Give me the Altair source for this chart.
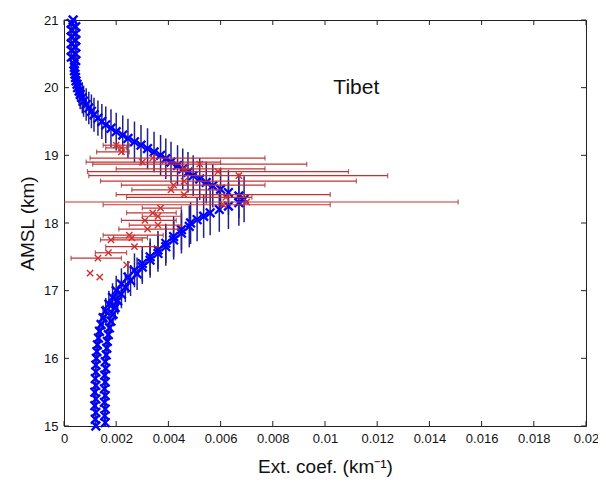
import altair as alt
import pandas as pd

# ---- blue profile (altitude km, extinction x1e-3 km^-1, vertical error half-length km)
blue_alt = [15.00, 15.05, 15.10, 15.15, 15.20, 15.25, 15.30, 15.35, 15.40, 15.45,
            15.50, 15.55, 15.60, 15.65, 15.70, 15.75, 15.80, 15.85, 15.90, 15.95,
            16.00, 16.05, 16.10, 16.15, 16.20, 16.25, 16.30, 16.35, 16.40, 16.45,
            16.50, 16.55, 16.60, 16.65, 16.70, 16.75, 16.80, 16.85, 16.90, 16.95,
            17.00, 17.05, 17.10, 17.15, 17.20, 17.25, 17.30, 17.35, 17.40, 17.45,
            17.50, 17.55, 17.60, 17.65, 17.70, 17.75, 17.80, 17.85, 17.90, 17.95,
            18.00, 18.05, 18.10, 18.15, 18.20, 18.25, 18.30, 18.35, 18.40, 18.45,
            18.50, 18.55, 18.60, 18.65, 18.70, 18.75, 18.80, 18.85, 18.90, 18.95,
            19.00, 19.05, 19.10, 19.15, 19.20, 19.25, 19.30, 19.35, 19.40, 19.45,
            19.50, 19.55, 19.60, 19.65, 19.70, 19.75, 19.80, 19.85, 19.90, 19.95,
            20.00, 20.05, 20.10, 20.15, 20.20, 20.25, 20.30, 20.35, 20.40, 20.45,
            20.50, 20.55, 20.60, 20.65, 20.70, 20.75, 20.80, 20.85, 20.90, 20.95,
            21.00]
blue_ext = [1.22, 1.58, 1.20, 1.56, 1.22, 1.58, 1.18, 1.55, 1.22, 1.58,
            1.18, 1.55, 1.22, 1.58, 1.20, 1.56, 1.22, 1.60, 1.22, 1.58,
            1.24, 1.62, 1.26, 1.64, 1.28, 1.66, 1.32, 1.70, 1.36, 1.74,
            1.42, 1.80, 1.50, 1.88, 1.60, 1.96, 1.72, 2.06, 1.86, 2.20,
            2.00, 2.35, 2.20, 2.55, 2.45, 2.80, 2.70, 3.00, 3.00, 3.30,
            3.30, 3.60, 3.60, 3.90, 3.90, 4.20, 4.20, 4.50, 4.50, 4.80,
            4.85, 5.10, 5.35, 5.60, 5.95, 6.30, 6.70, 6.90, 6.70, 6.30,
            6.00, 5.70, 5.45, 5.20, 4.95, 4.75, 4.55, 4.35, 4.10, 3.90,
            3.70, 3.45, 3.20, 2.95, 2.70, 2.45, 2.25, 2.00, 1.80, 1.60,
            1.45, 1.30, 1.15, 1.05, 0.95, 0.85, 0.75, 0.70, 0.62, 0.58,
            0.52, 0.50, 0.46, 0.44, 0.42, 0.40, 0.40, 0.38, 0.45, 0.28,
            0.45, 0.28, 0.45, 0.28, 0.45, 0.28, 0.45, 0.28, 0.45, 0.28,
            0.35]
blue_err = [0.15, 0.15, 0.15, 0.15, 0.15, 0.15, 0.15, 0.15, 0.15, 0.15,
            0.15, 0.15, 0.15, 0.15, 0.15, 0.15, 0.15, 0.15, 0.15, 0.15,
            0.15, 0.15, 0.15, 0.15, 0.15, 0.15, 0.15, 0.16, 0.16, 0.16,
            0.17, 0.17, 0.18, 0.18, 0.19, 0.19, 0.20, 0.20, 0.21, 0.21,
            0.22, 0.22, 0.23, 0.23, 0.24, 0.24, 0.25, 0.25, 0.26, 0.26,
            0.27, 0.27, 0.28, 0.28, 0.29, 0.29, 0.30, 0.30, 0.30, 0.31,
            0.31, 0.32, 0.32, 0.33, 0.33, 0.34, 0.34, 0.34, 0.33, 0.33,
            0.32, 0.32, 0.31, 0.31, 0.30, 0.30, 0.30, 0.30, 0.30, 0.30,
            0.30, 0.30, 0.30, 0.30, 0.30, 0.29, 0.29, 0.28, 0.28, 0.27,
            0.26, 0.26, 0.25, 0.25, 0.24, 0.24, 0.23, 0.23, 0.22, 0.22,
            0.21, 0.21, 0.20, 0.20, 0.20, 0.20, 0.20, 0.20, 0.20, 0.20,
            0.20, 0.20, 0.20, 0.20, 0.20, 0.20, 0.20, 0.20, 0.20, 0.20,
            0.20]

# ---- red points (altitude km, extinction, lower, upper; x1e-3 km^-1)
red_alt = [19.15, 19.11, 19.05, 18.96, 18.90, 18.87, 18.80, 18.76, 18.70, 18.62,
           18.56, 18.49, 18.42, 18.38, 18.31, 18.27, 18.22, 18.15, 18.10, 18.04,
           17.97, 17.91, 17.82, 17.78, 17.75, 17.65, 17.56, 17.48, 17.38, 17.26,
           17.20]
red_ext = [2.00, 2.20, 2.20, 3.40, 3.00, 5.20, 4.60, 5.90, 6.70, 4.60,
           4.20, 4.10, 4.60, 6.20, 7.00, 6.10, 3.70, 3.40, 3.60, 3.10,
           3.60, 3.20, 2.50, 2.60, 1.80, 2.70, 1.70, 1.30, 2.40, 1.00,
           1.37]
red_lo = [1.50, 1.60, 1.25, 1.00, 0.85, 1.10, 2.00, 0.90, 0.95, 1.40,
          2.20, 2.60, 2.00, 2.40, -0.50, 1.50, 3.00, 2.40, 3.00, 2.20,
          2.50, 2.10, 1.50, 1.90, 1.40, 1.60, 1.20, 0.27, 2.40, 1.00,
          1.37]
red_hi = [2.50, 2.40, 2.50, 7.70, 6.00, 9.30, 7.70, 10.90, 12.40, 11.20,
          7.70, 6.00, 10.20, 7.20, 15.10, 10.20, 4.50, 4.30, 4.50, 4.30,
          4.50, 4.40, 3.80, 3.20, 3.00, 3.60, 2.40, 2.20, 2.40, 1.00,
          1.37]

x_ticks = [0, 0.002, 0.004, 0.006, 0.008, 0.01, 0.012, 0.014, 0.016, 0.018, 0.02]
y_ticks = [15, 16, 17, 18, 19, 20, 21]

W, H = 522, 406
FONT = "Liberation Sans"

blue = pd.DataFrame({
    "alt": blue_alt,
    "ext": [v * 1e-3 for v in blue_ext],
    "lo": [a - e for a, e in zip(blue_alt, blue_err)],
    "hi": [a + e for a, e in zip(blue_alt, blue_err)],
})
red = pd.DataFrame({
    "alt": red_alt,
    "ext": [v * 1e-3 for v in red_ext],
    "lo": [v * 1e-3 for v in red_lo],
    "hi": [v * 1e-3 for v in red_hi],
})

xs = alt.Scale(domain=[0, 0.02], nice=False, zero=False)
ys = alt.Scale(domain=[15, 21], nice=False, zero=False)

x_axis = alt.Axis(values=x_ticks, format="~g", ticks=False, grid=False, domain=False,
                  labelFontSize=13, labelFont=FONT, labelColor="#111", labelPadding=6,
                  title="Ext. coef. (km\u207b\u00b9)", titleFont=FONT, titleFontSize=19,
                  titleFontWeight="normal", titleColor="#111", titlePadding=12,
                  labelFlush=False)
y_axis = alt.Axis(values=y_ticks, format="d", ticks=False, grid=False, domain=False,
                  labelFontSize=13, labelFont=FONT, labelColor="#111", labelPadding=6,
                  title="AMSL (km)", titleFont=FONT, titleFontSize=19,
                  titleFontWeight="normal", titleColor="#111", titlePadding=6,
                  labelFlush=False)

XSHAPE = "M-1,-1L1,1M1,-1L-1,1"

blue_bars = alt.Chart(blue).mark_rule(color="#20208a", strokeWidth=1.5, clip=True).encode(
    x=alt.X("ext:Q", scale=xs, axis=x_axis),
    y=alt.Y("lo:Q", scale=ys, axis=y_axis),
    y2="hi:Q",
)
blue_pts = alt.Chart(blue).mark_point(shape=XSHAPE, filled=False, color="#0000ff",
                                      strokeWidth=2.3, size=75, opacity=1).encode(
    x=alt.X("ext:Q", scale=xs),
    y=alt.Y("alt:Q", scale=ys),
)

red_base = alt.Chart(red).transform_filter("datum.hi > datum.lo")
red_bars = red_base.mark_rule(color="#c8302e", strokeWidth=1.2, clip=True).encode(
    x=alt.X("lo:Q", scale=xs), x2="hi:Q", y=alt.Y("alt:Q", scale=ys))
red_cap_lo = red_base.mark_tick(orient="vertical", size=5, thickness=1.2,
                                color="#8a2a2a", clip=True).encode(
    x=alt.X("lo:Q", scale=xs), y=alt.Y("alt:Q", scale=ys))
red_cap_hi = red_base.mark_tick(orient="vertical", size=5, thickness=1.2,
                                color="#8a2a2a", clip=True).encode(
    x=alt.X("hi:Q", scale=xs), y=alt.Y("alt:Q", scale=ys))
red_pts = alt.Chart(red).mark_point(shape=XSHAPE, filled=False, color="#d03030",
                                    strokeWidth=1.4, size=40, opacity=1).encode(
    x=alt.X("ext:Q", scale=xs), y=alt.Y("alt:Q", scale=ys))

# inward ticks (box style)
xt = pd.DataFrame({"v": x_ticks})
yt = pd.DataFrame({"v": y_ticks})
tick_col = "#222"
xt_bot = alt.Chart(xt).mark_rule(color=tick_col, strokeWidth=1).encode(
    x=alt.X("v:Q", scale=xs), y=alt.value(H), y2=alt.value(H - 5))
xt_top = alt.Chart(xt).mark_rule(color=tick_col, strokeWidth=1).encode(
    x=alt.X("v:Q", scale=xs), y=alt.value(0), y2=alt.value(5))
yt_left = alt.Chart(yt).mark_rule(color=tick_col, strokeWidth=1).encode(
    y=alt.Y("v:Q", scale=ys), x=alt.value(0), x2=alt.value(5))
yt_right = alt.Chart(yt).mark_rule(color=tick_col, strokeWidth=1).encode(
    y=alt.Y("v:Q", scale=ys), x=alt.value(W), x2=alt.value(W - 5))

label = alt.Chart(pd.DataFrame({"x": [0.0112], "y": [20.0], "t": ["Tibet"]})).mark_text(
    font=FONT, fontSize=21, color="#111", align="center", baseline="middle").encode(
    x=alt.X("x:Q", scale=xs), y=alt.Y("y:Q", scale=ys), text="t:N")

chart = alt.layer(
    blue_bars, blue_pts, red_bars, red_cap_lo, red_cap_hi, red_pts,
    xt_bot, xt_top, yt_left, yt_right, label
).properties(
    width=W, height=H,
    autosize=alt.AutoSizeParams(type="none"),
    padding={"left": 56, "top": 12, "right": 12, "bottom": 51},
    background="white",
).configure_view(stroke="#222", strokeWidth=1)

chart.save("out.html", embed_options={"renderer": "svg", "actions": False})
